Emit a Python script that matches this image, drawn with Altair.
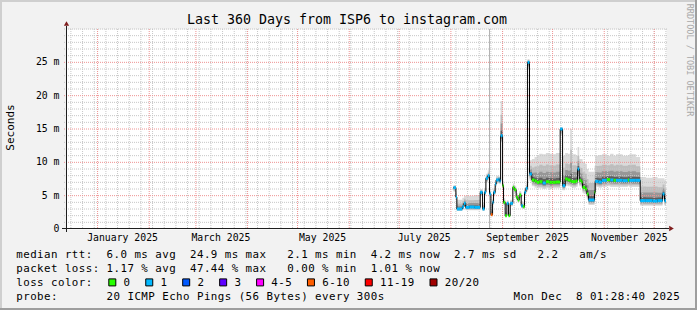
import altair as alt
import pandas as pd

MONO = "DejaVu Sans Mono"
L, T, W, H = 66, 29, 600, 200
PAGE_W, PAGE_H = 697, 310

# ---------------- data ----------------
med_dates = [
    "2025-08-02T14:00:00Z", "2025-08-04T00:00:00Z", "2025-08-04T14:00:00Z", "2025-08-07T20:00:00Z",
    "2025-08-08T20:00:00Z", "2025-08-09T20:00:00Z", "2025-08-12T00:00:00Z", "2025-08-15T00:00:00Z",
    "2025-08-18T14:00:00Z", "2025-08-20T00:00:00Z", "2025-08-21T04:00:00Z", "2025-08-22T00:00:00Z",
    "2025-08-23T04:00:00Z", "2025-08-24T04:00:00Z", "2025-08-25T00:00:00Z", "2025-08-26T00:00:00Z",
    "2025-08-26T14:00:00Z", "2025-08-27T14:00:00Z", "2025-08-28T04:00:00Z", "2025-08-29T14:00:00Z",
    "2025-08-30T04:00:00Z", "2025-08-30T20:00:00Z", "2025-09-01T00:00:00Z", "2025-09-01T14:00:00Z",
    "2025-09-02T14:00:00Z", "2025-09-03T14:00:00Z", "2025-09-04T14:00:00Z", "2025-09-05T14:00:00Z",
    "2025-09-07T04:00:00Z", "2025-09-08T00:00:00Z", "2025-09-09T04:00:00Z", "2025-09-10T04:00:00Z",
    "2025-09-11T00:00:00Z", "2025-09-12T04:00:00Z", "2025-09-13T04:00:00Z", "2025-09-14T04:00:00Z",
    "2025-09-15T00:00:00Z", "2025-09-16T00:00:00Z", "2025-09-17T04:00:00Z", "2025-09-18T14:00:00Z",
    "2025-09-20T04:00:00Z", "2025-09-21T14:00:00Z", "2025-09-23T00:00:00Z", "2025-09-25T00:00:00Z",
    "2025-09-27T00:00:00Z", "2025-09-29T00:00:00Z", "2025-10-01T00:00:00Z", "2025-10-03T00:00:00Z",
    "2025-10-05T14:00:00Z", "2025-10-07T00:00:00Z", "2025-10-08T14:00:00Z", "2025-10-10T04:00:00Z",
    "2025-10-11T14:00:00Z", "2025-10-12T14:00:00Z", "2025-10-15T00:00:00Z", "2025-10-16T00:00:00Z",
    "2025-10-17T00:00:00Z", "2025-10-18T04:00:00Z", "2025-10-19T00:00:00Z", "2025-10-20T14:00:00Z",
    "2025-10-21T14:00:00Z", "2025-10-22T14:00:00Z", "2025-10-26T04:00:00Z", "2025-10-26T14:00:00Z",
    "2025-10-28T14:00:00Z", "2025-10-30T14:00:00Z", "2025-11-02T14:00:00Z", "2025-11-04T14:00:00Z",
    "2025-11-06T14:00:00Z", "2025-11-08T00:00:00Z", "2025-11-12T00:00:00Z", "2025-11-15T04:00:00Z",
    "2025-11-16T00:00:00Z", "2025-11-20T00:00:00Z", "2025-11-22T14:00:00Z", "2025-11-26T00:00:00Z",
    "2025-11-30T00:00:00Z", "2025-12-03T00:00:00Z", "2025-12-06T00:00:00Z", "2025-12-07T04:00:00Z",
]
med_vals = [
    6.2, 4.8, 3.0, 3.35, 3.85, 3.25, 3.3, 3.25,
    5.5, 3.0, 5.5, 7.6, 8.0, 5.25, 2.15, 4.0,
    5.5, 6.75, 7.35, 7.5, 7.2, 14.0, 6.5, 4.0,
    2.0, 3.85, 2.0, 3.85, 6.25, 5.9, 4.75, 4.35,
    5.1, 3.5, 3.35, 5.5, 6.1, 25.0, 8.25, 7.35,
    7.2, 7.0, 7.1, 6.9, 7.1, 7.0, 7.0, 7.05,
    15.0, 6.5, 7.5, 7.35, 7.2, 7.1, 7.2, 9.0,
    7.3, 7.1, 6.25, 6.0, 5.25, 4.35, 5.5, 7.15,
    7.05, 7.3, 7.4, 7.35, 7.3, 7.3, 7.25, 7.35,
    7.3, 7.3, 4.25, 4.25, 4.2, 4.25, 5.25, 4.25,
]
med_loss = [
    "1", "1", "1", "1", "1", "1", "1", "1",
    "1", "1", "1", "1", "1", "1", "6-10", "1",
    "1", "1", "1", "1", "1", "1", "0", "0",
    "0", "1", "0", "1", "0", "0", "0", "0",
    "0", "1", "0", "1", "1", "1", "1", "0",
    "0", "0", "0", "1", "0", "0", "0", "0",
    "1", "1", "0", "0", "0", "0", "0", "1",
    "0", "0", "0", "0", "0", "1", "0", "1",
    "1", "1", "0", "1", "0", "1", "1", "0",
    "1", "1", "1", "1", "1", "1", "1", "1",
]
smoke_lo = [
    5.6, 4.3, 2.7, 2.9, 3.3, 2.8, 2.8, 2.8,
    4.9, 2.7, 5.0, 7.0, 7.3, 4.8, 2.0, 3.6,
    5.0, 6.2, 6.8, 6.9, 6.7, 13.0, 6.0, 3.6,
    1.9, 3.4, 1.9, 3.4, 5.8, 5.4, 4.3, 4.0,
    4.6, 3.1, 3.0, 5.0, 5.6, 24.0, 7.2, 6.4,
    6.2, 6.1, 6.1, 6.0, 6.1, 6.0, 6.1, 6.1,
    14.0, 5.8, 6.5, 6.4, 6.3, 6.2, 6.3, 8.0,
    6.4, 6.2, 5.4, 5.2, 4.4, 3.6, 4.7, 6.3,
    6.2, 6.3, 6.4, 6.3, 6.3, 6.3, 6.3, 6.4,
    6.3, 6.3, 3.5, 3.5, 3.5, 3.5, 4.5, 3.5,
]
smoke_hi = [
    6.6, 5.5, 4.4, 4.7, 5.0, 5.0, 5.0, 5.1,
    6.0, 4.0, 6.2, 8.3, 8.8, 6.0, 3.0, 4.8,
    6.2, 7.4, 8.0, 8.0, 7.8, 19.2, 7.2, 4.6,
    2.6, 4.3, 2.5, 4.4, 6.8, 6.5, 5.4, 5.0,
    5.7, 4.2, 4.1, 6.2, 6.8, 25.5, 10.3, 10.5,
    10.8, 11.0, 11.3, 11.2, 11.4, 11.3, 11.2, 11.4,
    15.3, 11.0, 11.4, 11.3, 15.0, 11.2, 11.0, 12.3,
    10.5, 10.5, 10.0, 9.8, 9.0, 8.6, 9.5, 11.0,
    11.1, 11.2, 11.0, 11.3, 11.0, 11.2, 11.0, 11.1,
    11.2, 10.8, 7.8, 7.7, 7.8, 7.6, 7.6, 7.3,
]
end_time = "2025-12-08T01:28:40Z"
marker_dates = ["2025-08-24T04:00:00Z"]

loss_labels = ["0", "1", "2", "3", "4-5", "6-10", "11-19", "20/20"]
loss_colors = ["#26ff00", "#00b8ff", "#0059ff", "#5e00ff", "#ff00ff", "#ff5e00", "#ff0000", "#a10000"]

y_major = [5, 10, 15, 20, 25]
y_minor = [1, 2, 3, 4, 6, 7, 8, 9, 11, 12, 13, 14, 16, 17, 18, 19, 21, 22, 23, 24, 26, 27, 28, 29, 30]
y_tick_vals = [0, 5, 10, 15, 20, 25]
y_tick_text = ["0  ", "5 m", "10 m", "15 m", "20 m", "25 m"]
month_starts = ["2025-%02d-01T00:00:00Z" % m for m in range(1, 13)]
month_label_dates = ["2025-01-16T00:00:00Z", "2025-03-16T00:00:00Z", "2025-05-16T00:00:00Z",
                     "2025-07-16T00:00:00Z", "2025-09-16T00:00:00Z", "2025-11-16T00:00:00Z"]
month_label_text = ["January 2025", "March 2025", "May 2025", "July 2025", "September 2025", "November 2025"]
week_lines = [d.strftime("%Y-%m-%dT00:00:00Z") for d in pd.date_range("2024-12-16", "2025-12-08", freq="7D")]

title_text = "Last 360 Days from ISP6 to instagram.com"
y_title = "Seconds"
watermark = "RRDTOOL / TOBI OETIKER"
legend_line1 = "median rtt:  6.0 ms avg  24.9 ms max   2.1 ms min  4.2 ms now  2.7 ms sd   2.2   am/s"
legend_line2 = "packet loss: 1.17 % avg  47.44 % max   0.00 % min  1.01 % now"
legend_line3 = "loss color:"
legend_line4 = "probe:       20 ICMP Echo Pings (56 Bytes) every 300s"
legend_date = "Mon Dec  8 01:28:40 2025"

# ---------------- frames ----------------
med = pd.DataFrame({"d": med_dates, "v": med_vals, "loss": med_loss, "lo": smoke_lo, "hi": smoke_hi})
med["d2"] = med["d"].shift(-1).fillna(end_time)
last = med.iloc[[-1]].copy()
last["d"] = end_time
med_ext = pd.concat([med, last], ignore_index=True)

xs = alt.Scale(type="utc", domain=[
    alt.DateTime(year=2024, month=12, date=13, hours=1, minutes=28, seconds=40, utc=True),
    alt.DateTime(year=2025, month=12, date=8, hours=1, minutes=28, seconds=40, utc=True)])
ys = alt.Scale(domain=[0, 30], nice=False, zero=True)
X = lambda f: alt.X(f, scale=xs, axis=None)
Y = lambda f: alt.Y(f, scale=ys, axis=None)
PX = lambda f: alt.X(f, scale=None, axis=None)
PY = lambda f: alt.Y(f, scale=None, axis=None)

GRID = "#c6c6c6"
MGRID = "#ee9292"

layers = []

# smoke bands (outer -> inner)
bands = [(1.0, 1.0, "#dadada"), (0.75, 0.6, "#bdbdbd"), (0.5, 0.35, "#979797"), (0.28, 0.14, "#5e5e5e")]
for kl, kh, col in bands:
    layers.append(
        alt.Chart(med_ext).transform_calculate(
            b_lo="datum.v - %f*(datum.v - datum.lo)" % kl,
            b_hi="datum.v + %f*(datum.hi - datum.v)" % kh,
        ).mark_area(interpolate="step-after", color=col).encode(
            x=X("d:T"), y=Y("b_lo:Q"), y2="b_hi:Q")
    )

# grid
layers.append(alt.Chart(pd.DataFrame({"y": y_minor})).mark_rule(color=GRID, strokeDash=[1, 1]).encode(
    y=Y("y:Q"), x=alt.value(-2), x2=alt.value(W + 2)))
layers.append(alt.Chart(pd.DataFrame({"d": week_lines})).mark_rule(color=GRID, strokeDash=[1, 1]).encode(
    x=X("d:T"), y=alt.value(0), y2=alt.value(H)))
layers.append(alt.Chart(pd.DataFrame({"y": y_major})).mark_rule(color=MGRID, strokeDash=[1, 1]).encode(
    y=Y("y:Q"), x=alt.value(-2), x2=alt.value(W + 2)))
layers.append(alt.Chart(pd.DataFrame({"d": month_starts})).mark_rule(color=MGRID, strokeDash=[1, 1]).encode(
    x=X("d:T"), y=alt.value(0), y2=alt.value(H)))

# marker line
layers.append(alt.Chart(pd.DataFrame({"d": marker_dates})).mark_rule(color="#b4b4b4").encode(
    x=X("d:T"), y=alt.value(0), y2=alt.value(H)))

# median line
layers.append(alt.Chart(med_ext).mark_line(interpolate="step-after", color="#000000", strokeWidth=1).encode(
    x=X("d:T"), y=Y("v:Q")))
layers.append(alt.Chart(med).mark_rule(strokeWidth=3).encode(
    x=X("d:T"), x2="d2:T", y=Y("v:Q"),
    color=alt.Color("loss:N", scale=alt.Scale(domain=loss_labels, range=loss_colors), legend=None)))

# frame shading, axes
frame = pd.DataFrame([
    {"x1": -L, "x2": PAGE_W - L, "y1": -T + 1, "y2": -T + 1, "c": "#cfcfcf"},
    {"x1": -L + 1, "x2": -L + 1, "y1": -T, "y2": PAGE_H - T, "c": "#cfcfcf"},
    {"x1": -L, "x2": PAGE_W - L, "y1": PAGE_H - T - 1, "y2": PAGE_H - T - 1, "c": "#9e9e9e"},
    {"x1": PAGE_W - L - 1, "x2": PAGE_W - L - 1, "y1": -T, "y2": PAGE_H - T, "c": "#9e9e9e"},
])
layers.append(alt.Chart(frame).mark_rule(strokeWidth=2).encode(
    x=PX("x1:Q"), x2="x2:Q", y=PY("y1:Q"), y2="y2:Q", color=alt.Color("c:N", scale=None)))
axes = pd.DataFrame([
    {"x1": 0.5, "x2": 0.5, "y1": -3, "y2": H + 3},
    {"x1": -4, "x2": W + 3, "y1": H - 0.5, "y2": H - 0.5},
])
layers.append(alt.Chart(axes).mark_rule(color="#1f1f1f", strokeWidth=1).encode(
    x=PX("x1:Q"), x2="x2:Q", y=PY("y1:Q"), y2="y2:Q"))
arrows = pd.DataFrame([
    {"x": 0.5, "y": -5.5, "s": "triangle-up"},
    {"x": W + 5.5, "y": H - 0.5, "s": "triangle-right"},
])
layers.append(alt.Chart(arrows).mark_point(filled=True, size=28, color="#801f1f", opacity=1).encode(
    x=PX("x:Q"), y=PY("y:Q"), shape=alt.Shape("s:N", scale=None)))

# axis labels
NB = "\u00a0"
layers.append(alt.Chart(pd.DataFrame({"v": y_tick_vals, "t": [s.replace(" ", NB) for s in y_tick_text]})).mark_text(
    font=MONO, fontSize=9.8, align="right", baseline="alphabetic", dy=3, color="#000000").encode(
    y=Y("v:Q"), x=alt.value(-6.5), text="t:N"))
layers.append(alt.Chart(pd.DataFrame({"d": month_label_dates, "t": month_label_text})).mark_text(
    font=MONO, fontSize=9.8, align="center", baseline="alphabetic", color="#000000").encode(
    x=X("d:T"), y=alt.value(240.5 - T), text="t:N"))

# title, axis title, watermark
layers.append(alt.Chart(pd.DataFrame({"t": [title_text]})).mark_text(
    font=MONO, fontSize=13.3, align="center", baseline="alphabetic", color="#000000").encode(
    x=alt.value(347 - L), y=alt.value(24 - T), text="t:N"))
layers.append(alt.Chart(pd.DataFrame({"t": [y_title]})).mark_text(
    font=MONO, fontSize=11, align="center", baseline="middle", angle=270, color="#000000").encode(
    x=alt.value(10.8 - L), y=alt.value(127.5 - T), text="t:N"))
layers.append(alt.Chart(pd.DataFrame({"t": [watermark]})).mark_text(
    font=MONO, fontSize=8.5, align="center", baseline="middle", angle=90, color="#a8a8a8").encode(
    x=alt.value(689.5 - L), y=alt.value(60 - T), text="t:N"))

# legend, character grid like rrdtool
CW = 6.95
rows = []


def put(s, x0, base):
    for i, ch in enumerate(s):
        if ch != " ":
            rows.append({"px": x0 + CW * i + CW / 2 - L, "py": base - T, "ch": ch})


put(legend_line1, 16, 258.3)
put(legend_line2, 16, 272.1)
put(legend_line3, 16, 285.8)
put(legend_line4, 16, 299.8)
put(legend_date, 680 - CW * len(legend_date), 299.8)

boxes = []
bx = 108.3
for lab, col in zip(loss_labels, loss_colors):
    boxes.append({"px": bx + 4 - L, "py": 282.4 - T, "c": col})
    lx = bx + 15
    put(lab, lx, 285.8)
    bx = lx + CW * len(lab) + 15

layers.append(alt.Chart(pd.DataFrame(rows)).mark_text(
    font=MONO, fontSize=10.8, align="center", baseline="alphabetic", color="#000000").encode(
    x=PX("px:Q"), y=PY("py:Q"), text="ch:N"))
layers.append(alt.Chart(pd.DataFrame(boxes)).mark_square(size=49, stroke="#000000", strokeWidth=1, opacity=1).encode(
    x=PX("px:Q"), y=PY("py:Q"), fill=alt.Fill("c:N", scale=None)))

chart = alt.layer(*layers).properties(
    width=W, height=H,
    padding={"left": L, "top": T, "right": PAGE_W - L - W, "bottom": PAGE_H - T - H},
    autosize=alt.AutoSizeParams(type="none"),
    background="#f2f2f2",
).configure_view(fill="#ffffff", stroke="transparent")

chart.save("out.html", embed_options={"renderer": "svg", "actions": False})
